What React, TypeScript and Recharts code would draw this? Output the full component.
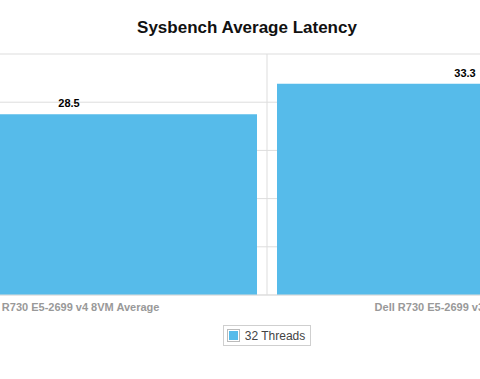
import React from 'react'
import { BarChart, Bar, XAxis, YAxis, CartesianGrid, Legend, LabelList } from 'recharts'

const categories = ['Dell R730 E5-2699 v4 8VM Average', 'Dell R730 E5-2699 v3 8VM Average']
const threads32 = [28.5, 33.3]
const yTicks = [0, 7.6, 15.2, 22.8, 30.4, 38]

const data = categories.map((name, i) => ({ name, t32: threads32[i] }))

const FONT = '"Liberation Sans", Arial, Helvetica, sans-serif'
const BLUE = '#56bbea'

function LegendBox() {
  return (
    <div style={{ display: 'flex', justifyContent: 'center' }}>
      <div
        style={{
          display: 'flex',
          alignItems: 'center',
          height: 19,
          border: '1px solid #cfcfcf',
          padding: '0 5px 0 3px',
          fontFamily: FONT,
          fontSize: 12,
          color: '#444',
        }}
      >
        <span
          style={{
            width: 13,
            height: 13,
            border: '1px solid #bbb',
            boxSizing: 'border-box',
            padding: 1,
            marginRight: 5,
            display: 'inline-block',
            background: '#fff',
          }}
        >
          <span style={{ display: 'block', width: '100%', height: '100%', background: BLUE }} />
        </span>
        32 Threads
      </div>
    </div>
  )
}

export default function App() {
  return (
    <div
      style={{
        position: 'fixed',
        left: 0,
        top: 0,
        width: 480,
        height: 379,
        overflow: 'hidden',
        background: '#fff',
      }}
    >
      <div
        style={{
          position: 'absolute',
          top: 18,
          left: 0,
          width: 494,
          textAlign: 'center',
          fontFamily: FONT,
          fontWeight: 'bold',
          fontSize: 17,
          color: '#111',
        }}
      >
        Sysbench Average Latency
      </div>
      <div style={{ position: 'absolute', left: -129, top: 0 }}>
        <BarChart
          width={792}
          height={379}
          data={data}
          margin={{ top: 54, right: 0, bottom: 33, left: 0 }}
          barCategoryGap={10}
        >
          <CartesianGrid
            stroke="#dddddd"
            verticalCoordinatesGenerator={({ offset }: any) =>
              Array.from({ length: categories.length + 1 }, (_, i) => offset.left + (offset.width * i) / categories.length)
            }
          />
          <YAxis hide domain={[0, 38]} ticks={yTicks} />
          <XAxis
            dataKey="name"
            height={30}
            tickLine={false}
            axisLine={{ stroke: '#dddddd' }}
            tick={{ fill: '#999', fontSize: 11, fontWeight: 'bold', fontFamily: FONT }}
          />
          <Legend verticalAlign="bottom" content={() => <LegendBox />} />
          <Bar dataKey="t32" name="32 Threads" fill={BLUE} isAnimationActive={false}>
            <LabelList
              dataKey="t32"
              position="top"
              offset={7}
              style={{ fill: '#000', fontSize: 11, fontWeight: 'bold', fontFamily: FONT }}
            />
          </Bar>
        </BarChart>
      </div>
    </div>
  )
}
